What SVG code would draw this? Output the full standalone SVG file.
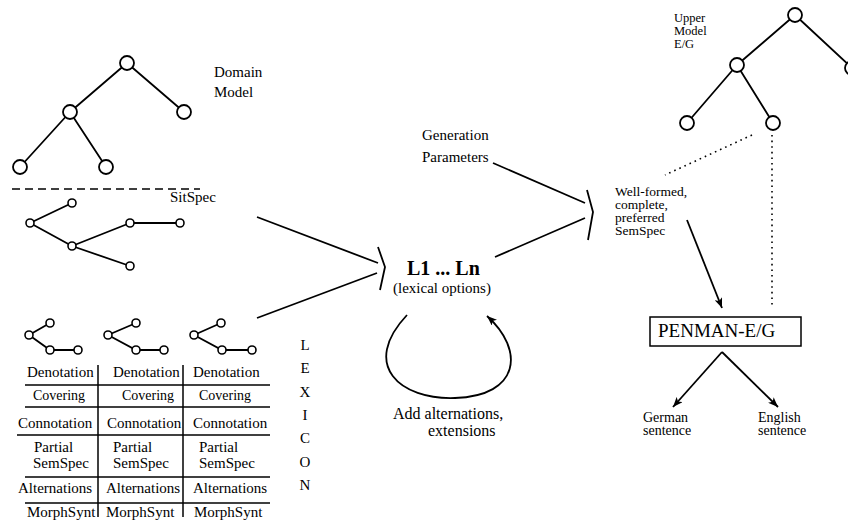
<svg xmlns="http://www.w3.org/2000/svg" width="848" height="526" viewBox="0 0 848 526" font-family="'Liberation Serif', 'DejaVu Serif', serif">
<style>
text{font-family:'Liberation Serif','DejaVu Serif',serif;fill:#000}
.e{stroke:#000;stroke-width:1.8;fill:none}
.n{stroke:#000;stroke-width:1.8;fill:#fff}
.s{stroke:#000;stroke-width:1.6;fill:#fff}
.t{stroke:#000;stroke-width:1.5}
.c{stroke:#000;stroke-width:1.8;fill:none}
.d{stroke:#000;stroke-width:1.6;stroke-dasharray:1.6 4;fill:none}
.f12{font-size:12.5px}
.f13{font-size:13.5px}
.f14{font-size:14px}
.f15{font-size:15px}
</style>
<defs>
<marker id="ah" viewBox="0 0 10 8" refX="10" refY="4" markerWidth="10" markerHeight="8" markerUnits="userSpaceOnUse" orient="auto">
<path d="M0,0 L10,4 L0,8 L2.5,4 Z" fill="#000"/>
</marker>
</defs>

<g id="domain-model">
<path class="e" d="M127,63 L70,112 M127,63 L184,112 M70,112 L20,167 M70,112 L106,167"/>
<circle class="n" cx="127" cy="63" r="7"/>
<circle class="n" cx="70" cy="112" r="7"/>
<circle class="n" cx="184" cy="112" r="7"/>
<circle class="n" cx="20" cy="167" r="7"/>
<circle class="n" cx="106" cy="167" r="7"/>
<text class="f15" x="214" y="77">Domain</text>
<text class="f15" x="214" y="97">Model</text>
</g>

<g id="separator">
<line x1="12" y1="189" x2="200" y2="189" stroke="#000" stroke-width="1.3" stroke-dasharray="8 5"/>
</g>

<g id="sitspec">
<path class="e" d="M30,223 L72,203 M30,223 L72,246 M72,246 L130,223 M130,223 L180,223 M72,246 L130,266"/>
<circle class="s" cx="30" cy="223" r="4"/>
<circle class="s" cx="72" cy="203" r="4"/>
<circle class="s" cx="72" cy="246" r="4"/>
<circle class="s" cx="130" cy="223" r="4"/>
<circle class="s" cx="180" cy="223" r="4"/>
<circle class="s" cx="130" cy="266" r="4"/>
<text class="f15" x="170" y="202">SitSpec</text>
</g>

<g id="lexicon">
<path class="e" d="M29,335 L50,323 M29,335 L50,350 L78,350"/>
<circle class="s" cx="29" cy="335" r="4"/><circle class="s" cx="50" cy="323" r="4"/><circle class="s" cx="50" cy="350" r="4"/><circle class="s" cx="78" cy="350" r="4"/>
<path class="e" d="M108,335 L136,323 M108,335 L136,350 L164,350"/>
<circle class="s" cx="108" cy="335" r="4"/><circle class="s" cx="136" cy="323" r="4"/><circle class="s" cx="136" cy="350" r="4"/><circle class="s" cx="164" cy="350" r="4"/>
<path class="e" d="M194,335 L221,323 M194,335 L222,350 L252,350"/>
<circle class="s" cx="194" cy="335" r="4"/><circle class="s" cx="221" cy="323" r="4"/><circle class="s" cx="222" cy="350" r="4"/><circle class="s" cx="252" cy="350" r="4"/>

<line class="t" x1="98" y1="365" x2="98" y2="517"/>
<line class="t" x1="183" y1="365" x2="183" y2="517"/>
<line class="t" x1="25" y1="385" x2="270" y2="385"/>
<line class="t" x1="25" y1="407" x2="270" y2="407"/>
<line class="t" x1="17" y1="435" x2="270" y2="435"/>
<line class="t" x1="25" y1="477" x2="270" y2="477"/>
<line class="t" x1="25" y1="503" x2="270" y2="503"/>

<text class="f15" x="27" y="377">Denotation</text>
<text class="f15" x="113" y="377">Denotation</text>
<text class="f15" x="193" y="377">Denotation</text>
<text class="f14" x="33" y="400">Covering</text>
<text class="f14" x="122" y="400">Covering</text>
<text class="f14" x="199" y="400">Covering</text>
<text class="f15" x="18" y="428">Connotation</text>
<text class="f15" x="107" y="428">Connotation</text>
<text class="f15" x="193" y="428">Connotation</text>
<text class="f15" x="34" y="452">Partial</text>
<text class="f15" x="33" y="468">SemSpec</text>
<text class="f15" x="113" y="452">Partial</text>
<text class="f15" x="113" y="468">SemSpec</text>
<text class="f15" x="199" y="452">Partial</text>
<text class="f15" x="199" y="468">SemSpec</text>
<text class="f15" x="18" y="493">Alternations</text>
<text class="f15" x="106" y="493">Alternations</text>
<text class="f15" x="193" y="493">Alternations</text>
<text class="f15" x="27" y="517">MorphSynt</text>
<text class="f15" x="106" y="517">MorphSynt</text>
<text class="f15" x="194" y="517">MorphSynt</text>

<g class="f15" text-anchor="middle">
<text x="305" y="350">L</text>
<text x="305" y="373">E</text>
<text x="305" y="397">X</text>
<text x="305" y="420">I</text>
<text x="305" y="443">C</text>
<text x="305" y="467">O</text>
<text x="305" y="490">N</text>
</g>
</g>

<g id="lexical-options">
<text x="407" y="275" font-size="20" font-weight="bold">L1 ... Ln</text>
<text class="f15" x="393" y="293">(lexical options)</text>
</g>

<g id="generation-parameters">
<text class="f15" x="422" y="140">Generation</text>
<text class="f15" x="422" y="162">Parameters</text>
</g>

<g id="loop-label">
<text x="393" y="419" font-size="16">Add alternations,</text>
<text x="428" y="436" font-size="16">extensions</text>
</g>

<g id="upper-model">
<path class="e" d="M795,15 L737,65 M795,15 L852,68 M737,65 L687,123 M737,65 L773,123"/>
<circle class="n" cx="795" cy="15" r="7"/>
<circle class="n" cx="737" cy="65" r="7"/>
<circle class="n" cx="852" cy="68" r="7"/>
<circle class="n" cx="687" cy="123" r="7"/>
<circle class="n" cx="773" cy="123" r="7"/>
<text class="f12" x="674" y="22">Upper</text>
<text class="f12" x="674" y="35">Model</text>
<text class="f12" x="674" y="48">E/G</text>
</g>

<g id="semspec">
<text class="f13" x="615" y="196">Well-formed,</text>
<text class="f13" x="615" y="209">complete,</text>
<text class="f13" x="615" y="222">preferred</text>
<text class="f13" x="615" y="235">SemSpec</text>
</g>

<g id="penman">
<rect x="650" y="317" width="151" height="29" fill="#fff" stroke="#000" stroke-width="1.5"/>
<text x="658" y="337" font-size="19">PENMAN-E/G</text>
</g>

<g id="german">
<text class="f14" x="643" y="422">German</text>
<text class="f14" x="643" y="435">sentence</text>
</g>
<g id="english">
<text class="f14" x="758" y="422">English</text>
<text class="f14" x="758" y="435">sentence</text>
</g>

<g id="connectors">
<line class="c" x1="257" y1="217" x2="378" y2="263"/>
<line class="c" x1="257" y1="318" x2="377" y2="273"/>
<polyline class="c" points="378,247 385,267 380,290"/>
<line class="c" x1="495" y1="257" x2="585" y2="218"/>
<line class="c" x1="493" y1="163" x2="585" y2="203"/>
<polyline class="c" points="587,190 593,212 588,240"/>
<line class="d" x1="752" y1="135" x2="665" y2="175"/>
<line class="d" x1="772" y1="135" x2="772" y2="308"/>
<line class="c" x1="687" y1="220" x2="722" y2="308" marker-end="url(#ah)"/>
<line class="c" x1="722" y1="352" x2="673" y2="407" marker-end="url(#ah)"/>
<line class="c" x1="722" y1="352" x2="778" y2="407" marker-end="url(#ah)"/>
<path class="c" d="M407,315 C360,365 400,400 455,398 C520,396 525,350 487,316" marker-end="url(#ah)"/>
</g>
</svg>
